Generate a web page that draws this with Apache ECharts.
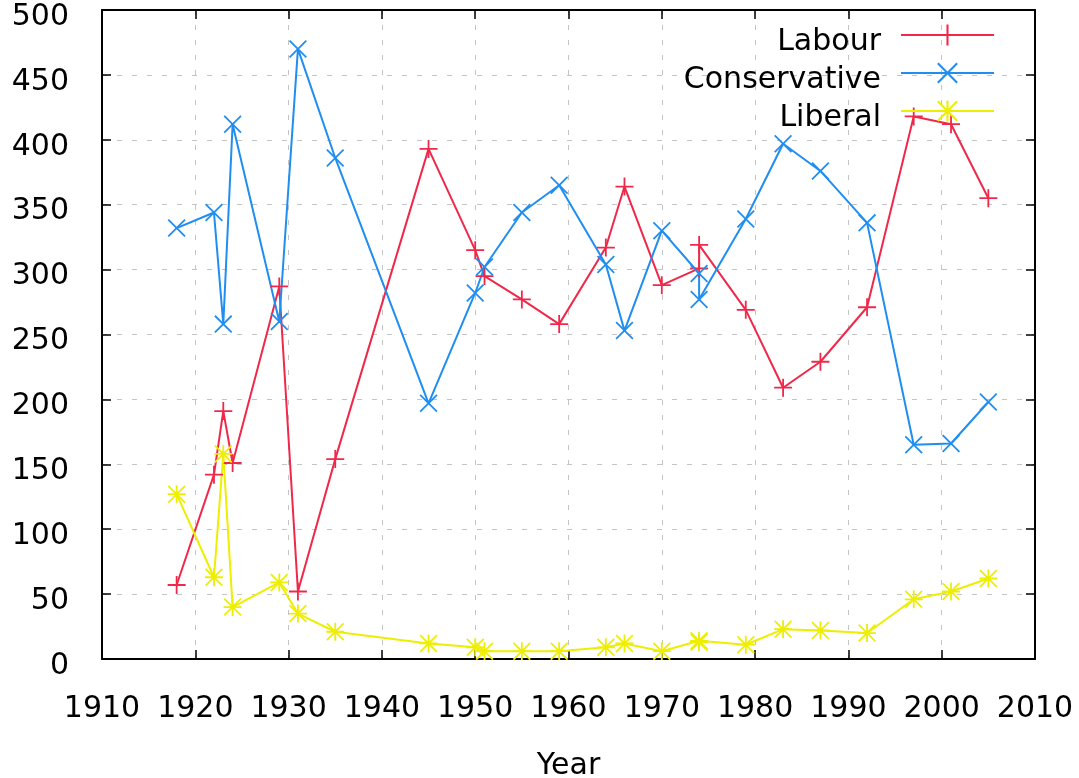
<!DOCTYPE html>
<html lang="en">
<head>
    <meta charset="UTF-8">
    <title>Seats</title>
    <script src="https://cdn.jsdelivr.net/npm/echarts@6/dist/echarts.min.js"></script>
    <style>
        html, body { margin: 0; padding: 0; background: #fff; }
        #chart { width: 1079px; height: 778px; }
    </style>
</head>
<body>
    <div id="chart"></div>
    <script>
        // election years (two elections in 1974)
        var years = [1918, 1922, 1923, 1924, 1929, 1931, 1935, 1945, 1950, 1951, 1955, 1959,
                     1964, 1966, 1970, 1974, 1974, 1979, 1983, 1987, 1992, 1997, 2001, 2005];
        var labour = [57, 142, 191, 151, 287, 52, 154, 393, 315, 295, 277, 258,
                      317, 364, 288, 301, 319, 269, 209, 229, 271, 418, 412, 355];
        var conservative = [332, 344, 258, 412, 260, 470, 386, 197, 282, 302, 344, 365,
                            304, 253, 330, 297, 277, 339, 397, 376, 336, 165, 166, 198];
        var liberal = [127, 63, 158, 40, 59, 35, 21, 12, 9, 6, 6, 6,
                       9, 12, 6, 14, 13, 11, 23, 22, 20, 46, 52, 62];
        var seriesNames = ['Labour', 'Conservative', 'Liberal'];

        // marker shapes, gnuplot style
        var plusPath = 'path://M9,0h2v20h-2zM0,9h20v2h-20z';
        var crossPath = 'path://M0,1.4L1.4,0L20,18.6L18.6,20zM18.6,0L20,1.4L1.4,20L0,18.6z';
        var starPath = 'path://M9,0h2v20h-2zM0,9h20v2h-20zM0,1.4L1.4,0L20,18.6L18.6,20zM18.6,0L20,1.4L1.4,20L0,18.6z';

        function pairs(vals) {
            return years.map(function(y, i) { return [y, vals[i]]; });
        }

        var font = 'DejaVu Sans';
        var gridLine = { show: true, lineStyle: { color: '#c4c4c4', width: 1, type: [5, 10] } };
        var border = { show: true, onZero: false, lineStyle: { color: '#000', width: 2 } };
        var ticks = { show: true, inside: true, length: 9, lineStyle: { color: '#000', width: 1.5 } };

        // empty first line pushes the text a little below its anchor, like gnuplot
        function lowered(s) { return '\n' + s; }

        function mkSeries(name, vals, color, symbol) {
            return {
                name: name,
                type: 'line',
                data: pairs(vals),
                symbol: symbol,
                symbolSize: 18,
                showAllSymbol: true,
                lineStyle: { color: color, width: 2 },
                itemStyle: { color: color },
                emphasis: { disabled: true }
            };
        }

        var chart = echarts.init(document.getElementById('chart'));
        chart.setOption({
            animation: false,
            backgroundColor: '#fff',
            textStyle: { fontFamily: font },
            grid: { left: 102, right: 44, top: 10, bottom: 119, containLabel: false, outerBoundsMode: 'none' },
            legend: {
                data: seriesNames,
                orient: 'vertical',
                right: 79,
                top: 8,
                align: 'right',
                itemWidth: 93,
                itemHeight: 26,
                itemGap: -6,
                formatter: lowered,
                textStyle: { fontFamily: font, fontSize: 30, color: '#000', lineHeight: 14, padding: [0, 15, 0, 0] },
                selectedMode: false
            },
            xAxis: [{
                type: 'value',
                min: 1910, max: 2010, interval: 10,
                name: 'Year',
                nameLocation: 'middle',
                nameGap: 92,
                nameTextStyle: { fontFamily: font, fontSize: 30, color: '#000' },
                axisLine: border,
                axisTick: ticks,
                axisLabel: { fontFamily: font, fontSize: 30, color: '#000', margin: 35,
                             formatter: function(v) { return String(v); } },
                splitLine: gridLine
            }, {
                type: 'value', position: 'top',
                min: 1910, max: 2010, interval: 10,
                axisLine: border,
                axisTick: ticks,
                axisLabel: { show: false },
                splitLine: { show: false }
            }],
            yAxis: [{
                type: 'value',
                min: 0, max: 500, interval: 50,
                axisLine: border,
                axisTick: ticks,
                axisLabel: { fontFamily: font, fontSize: 30, color: '#000', margin: 33, lineHeight: 14,
                             formatter: function(v) { return lowered(v); } },
                splitLine: gridLine
            }, {
                type: 'value', position: 'right',
                min: 0, max: 500, interval: 50,
                axisLine: border,
                axisTick: ticks,
                axisLabel: { show: false },
                splitLine: { show: false }
            }],
            series: [
                mkSeries('Labour', labour, '#f0284a', plusPath),
                mkSeries('Conservative', conservative, '#1f8ef0', crossPath),
                mkSeries('Liberal', liberal, '#eeee00', starPath)
            ]
        });
    </script>
</body>
</html>
